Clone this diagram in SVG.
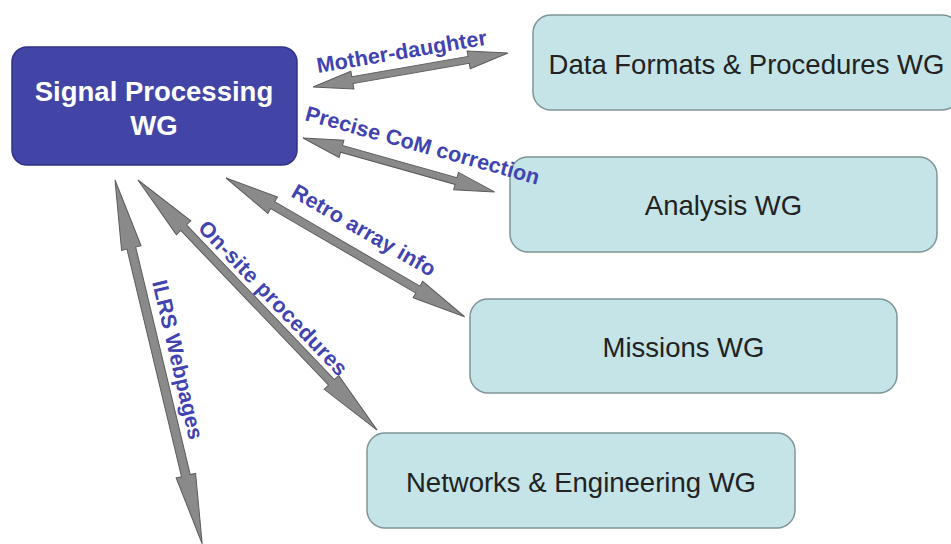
<svg xmlns="http://www.w3.org/2000/svg" width="951" height="544" viewBox="0 0 951 544">
  <style>
    .wg { fill: #c4e4e7; stroke: #7f9597; stroke-width: 1.5; }
    .wg-text { font-family: "Liberation Sans", Arial, sans-serif; font-size: 27.5px; fill: #222; text-anchor: middle; }
    .hub { fill: #4245a6; stroke: #2f3288; stroke-width: 1.5; }
    .hub-text { font-family: "Liberation Sans", Arial, sans-serif; font-size: 27.5px; font-weight: bold; fill: #fff; text-anchor: middle; }
    .arrow { fill: #8a8a8a; stroke: #5c5c5c; stroke-width: 1; stroke-linejoin: miter; }
    .label { font-family: "Liberation Sans", Arial, sans-serif; font-size: 21.5px; font-weight: bold; fill: #4043b0; }
  </style>
  <rect width="951" height="544" fill="#fff"/>

  <g id="signal-processing">
    <rect class="hub" x="12" y="47" width="285" height="118" rx="15"/>
    <text class="hub-text" x="154" y="101">Signal Processing</text>
    <text class="hub-text" x="154" y="135">WG</text>
  </g>

  <g id="data-formats">
    <rect class="wg" x="533" y="15" width="427" height="95" rx="18"/>
    <text class="wg-text" x="746.5" y="74">Data Formats &amp; Procedures WG</text>
  </g>

  <g id="analysis">
    <rect class="wg" x="510" y="157" width="427" height="95" rx="18"/>
    <text class="wg-text" x="723.5" y="215">Analysis WG</text>
  </g>

  <g id="missions">
    <rect class="wg" x="470" y="299" width="427" height="94" rx="18"/>
    <text class="wg-text" x="683.5" y="357">Missions WG</text>
  </g>

  <g id="networks-engineering">
    <rect class="wg" x="367" y="433" width="428" height="95" rx="18"/>
    <text class="wg-text" x="581" y="492">Networks &amp; Engineering WG</text>
  </g>

  <!-- two-way block arrows between the hub and the working groups, labels on top -->
  <g id="connectors">
    <polygon class="arrow" transform="translate(313,87) rotate(-9.89)" points="0,0 40,-9 40,-3.5 158,-3.5 158,-9 198,0 158,9 158,3.5 40,3.5 40,9"/>
    <polygon class="arrow" transform="translate(303,138) rotate(15.71)" points="0,0 40,-9 40,-3.5 159,-3.5 159,-9 199,0 159,9 159,3.5 40,3.5 40,9"/>
    <polygon class="arrow" transform="translate(226,178) rotate(30.18)" points="0,0 54,-9.5 54,-4 222,-4 222,-9.5 276,0 222,9.5 222,4 54,4 54,9.5"/>
    <polygon class="arrow" transform="translate(138,180) rotate(46.29)" points="0,0 66,-10 66,-4 280,-4 280,-10 346,0 280,10 280,4 66,4 66,10"/>
    <polygon class="arrow" transform="translate(115,180) rotate(76.52)" points="0,0 70,-10 70,-4.5 304,-4.5 304,-10 374,0 304,10 304,4.5 70,4.5 70,10"/>

    <text class="label" transform="translate(318,73) rotate(-9.5)" textLength="172" lengthAdjust="spacing">Mother-daughter</text>
    <text class="label" transform="translate(304,120) rotate(15.5)" textLength="242" lengthAdjust="spacing">Precise CoM correction</text>
    <text class="label" transform="translate(290,196) rotate(30)" textLength="162" lengthAdjust="spacing">Retro array info</text>
    <text class="label" transform="translate(197,229) rotate(46.3)" textLength="205" lengthAdjust="spacing">On-site procedures</text>
    <text class="label" transform="translate(152,282) rotate(76.8)" textLength="163" lengthAdjust="spacing">ILRS Webpages</text>
  </g>
</svg>
